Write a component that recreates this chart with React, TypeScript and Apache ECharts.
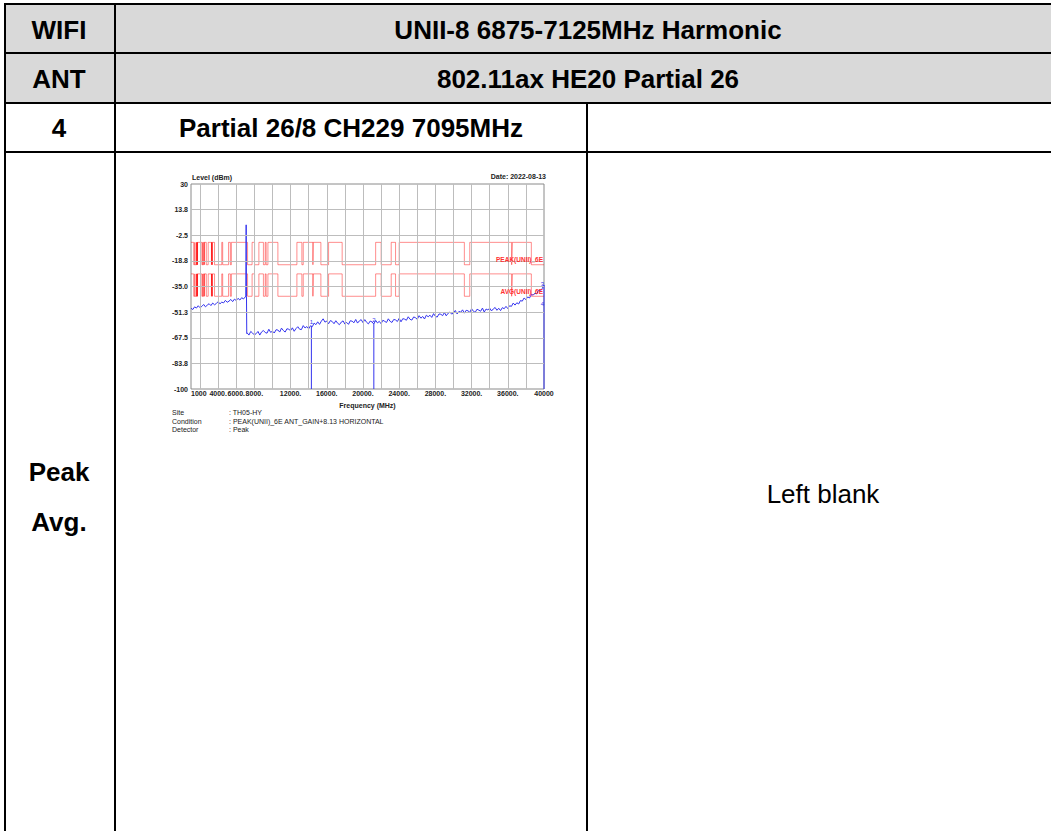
import React, { useEffect, useRef } from "react";
import * as echarts from "echarts";

// ---------- data ----------
const X_TICKS = [1000, 4000, 6000, 8000, 12000, 16000, 20000, 24000, 28000, 32000, 36000, 40000];
const X_TICK_LABELS = ["1000", "4000.", "6000.", "8000.", "12000.", "16000.", "20000.", "24000.", "28000.", "32000.", "36000.", "40000"];
const X_GRID = [2000, 4000, 6000, 8000, 10000, 12000, 14000, 16000, 18000, 20000, 22000, 24000, 26000, 28000, 30000, 32000, 34000, 36000, 38000];
const Y_TICKS = [30, 13.75, -2.5, -18.75, -35, -51.25, -67.5, -83.75, -100];
const Y_TICK_LABELS = ["30", "13.8", "-2.5", "-18.8", "-35.0", "-51.3", "-67.5", "-83.8", "-100"];

// FCC restricted bands (MHz) where the lower limit applies
const RESTRICTED_BANDS: [number, number][] = [
  [1300, 1427], [1435, 1626.5], [1645.5, 1646.5], [1660, 1710], [1718.8, 1722.2],
  [2200, 2300], [2310, 2390], [2483.5, 2500], [2690, 2900], [3260, 3267],
  [3332, 3339], [3345.8, 3358], [3600, 4400], [4500, 5150], [5350, 5460],
  [7250, 7750], [8025, 8500], [9000, 9200], [9300, 9500], [10600, 12700],
  [13250, 13400], [14470, 14500], [15350, 16200], [17700, 21400], [22010, 23120],
  [23600, 24000], [31200, 31800], [36430, 36500], [38600, 40000],
];
const PEAK_LIMIT = { high: -7, low: -21.2 };
const AVG_LIMIT = { high: -27, low: -41.2 };

// measured trace [MHz, dBm]
const TRACE_LOW: [number, number][] = [
  [1000, -48.8], [1200, -49.6], [1400, -47.9], [1600, -48.7], [1800, -47.2], [2000, -48.5],
  [2200, -47.6], [2400, -46.4], [2600, -47.9], [2800, -46.8], [3000, -45.9], [3200, -47.1],
  [3400, -45.5], [3600, -46.6], [3800, -45.8], [4000, -44.6], [4200, -46.0], [4400, -44.9],
  [4600, -45.4], [4800, -43.8], [5000, -45.0], [5200, -44.3], [5400, -43.2], [5600, -44.6],
  [5800, -43.0], [6000, -43.9], [6200, -42.5], [6400, -43.6], [6600, -42.1], [6800, -42.9],
  [7000, -41.6], [7050, -41.0], [7095, 4.1], [7130, -41.2], [7160, -64.8],
];
const TRACE_HIGH: [number, number][] = [
  [7200, -64.4], [7400, -65.8], [7600, -63.5], [7800, -64.5], [8000, -65.7], [8200, -64.9],
  [8400, -63.5], [8600, -65.8], [8800, -63.8], [9000, -62.9], [9200, -64.2], [9400, -64.6],
  [9600, -62.1], [9800, -64.1], [10000, -63.3], [10200, -64.5], [10400, -62.4], [10600, -62.6],
  [10800, -63.9], [11000, -61.4], [11200, -62.9], [11400, -63.9], [11600, -61.8], [11800, -62.1],
  [12000, -63.0], [12200, -61.2], [12400, -63.4], [12600, -61.7], [12800, -60.5], [13000, -62.1],
  [13200, -62.3], [13400, -59.8], [13600, -61.3], [13800, -60.4], [14000, -61.9], [14200, -59.9],
  [14400, -60.5], [14600, -58.2], [14800, -59.2], [15000, -57.4], [15200, -59.0], [15400, -57.0],
  [15600, -55.5], [15800, -57.6], [16000, -56.9], [16200, -58.6], [16400, -56.6], [16600, -57.2],
  [16800, -58.6], [17000, -56.7], [17200, -58.3], [17400, -59.2], [17600, -57.6], [17800, -56.8],
  [18000, -58.8], [18200, -57.8], [18400, -59.0], [18600, -56.7], [18800, -57.0], [19000, -58.0],
  [19200, -55.9], [19400, -58.2], [19600, -56.8], [19800, -56.0], [20000, -57.9], [20200, -56.0],
  [20400, -57.7], [20600, -58.7], [20800, -56.9], [21000, -57.5], [21200, -58.8], [21400, -56.5],
  [21600, -58.1], [21800, -57.1], [22000, -58.6], [22200, -56.4], [22400, -57.1], [22600, -57.8],
  [22800, -55.5], [23000, -57.1], [23200, -57.8], [23400, -55.9], [23600, -56.2], [23800, -57.2],
  [24000, -55.2], [24200, -57.4], [24400, -55.4], [24600, -55.7], [24800, -56.4], [25000, -54.2],
  [25200, -55.8], [25400, -56.3], [25600, -54.3], [25800, -54.8], [26000, -55.8], [26200, -53.5],
  [26400, -55.1], [26600, -54.0], [26800, -55.6], [27000, -53.2], [27200, -54.2], [27400, -53.2],
  [27600, -54.6], [27800, -52.2], [28000, -53.9], [28200, -54.4], [28400, -52.4], [28600, -52.6],
  [28800, -53.5], [29000, -51.5], [29200, -53.6], [29400, -52.0], [29600, -51.2], [29800, -52.5],
  [30000, -51.8], [30200, -50.2], [30400, -52.4], [30600, -50.8], [30800, -51.3], [31000, -49.8],
  [31200, -51.9], [31400, -50.1], [31600, -50.4], [31800, -51.4], [32000, -49.1], [32200, -50.7],
  [32400, -51.4], [32600, -49.4], [32800, -50.0], [33000, -50.7], [33200, -48.7], [33400, -51.2],
  [33600, -49.3], [33800, -49.9], [34000, -48.7], [34200, -50.5], [34400, -49.2], [34600, -48.3],
  [34800, -50.1], [35000, -48.8], [35200, -50.3], [35400, -48.4], [35600, -49.1], [35800, -47.6],
  [36000, -49.0], [36200, -47.2], [36400, -47.6], [36600, -45.5], [36800, -46.8], [37000, -45.3],
  [37200, -46.1], [37400, -43.9], [37600, -44.3], [37800, -42.3], [38000, -43.3], [38200, -41.6],
  [38400, -42.3], [38600, -39.9], [38800, -40.5], [39000, -39.2], [39200, -39.7], [39400, -37.4],
  [39600, -37.8], [39800, -36.3], [40000, -34.0], [40000, -100],
];
const MARKERS = [
  { name: "1", freq: 14300, level: -60.2, drop: true },
  { name: "2", freq: 21200, level: -58.8, drop: true },
  { name: "3", freq: 40000, level: -33.5, drop: false },
  { name: "4", freq: 40000, level: -46.0, drop: false },
];
const LIMIT_NAMES = ["PEAK(UNII)_6E", "AVG(UNII)_6E"];
const INFO_KEYS = ["Site", "Condition", "Detector"];
const INFO_VALUES = [": TH05-HY", ": PEAK(UNII)_6E ANT_GAIN+8.13 HORIZONTAL", ": Peak"];
const DATE_TEXT = "Date: 2022-08-13";

// ---------- helpers ----------
function buildLimit(high: number, low: number, fmin: number, fmax: number): [number, number][] {
  const pts: [number, number][] = [[fmin, high]];
  for (const [s, e] of RESTRICTED_BANDS) {
    pts.push([s, high], [s, low], [e, low]);
    if (e < fmax) pts.push([e, high]);
  }
  const last = pts[pts.length - 1];
  if (last[0] < fmax) pts.push([fmax, last[1]]);
  return pts;
}

const FONT = '"Liberation Sans", Arial, sans-serif';
const TRACE_COLOR = "#3434ee";

function Chart() {
  const ref = useRef<HTMLDivElement>(null);
  useEffect(() => {
    if (!ref.current) return;
    const chart = echarts.init(ref.current, undefined, { renderer: "svg" });
    const peak = buildLimit(PEAK_LIMIT.high, PEAK_LIMIT.low, 1000, 40000);
    const avg = buildLimit(AVG_LIMIT.high, AVG_LIMIT.low, 1000, 40000);
    const trace = [...TRACE_LOW, ...TRACE_HIGH];
    const small = { fontFamily: FONT, fontSize: 7, fontWeight: "bold" as const, color: "#222" };
    const infoText: any[] = [];
    INFO_KEYS.forEach((k, i) => {
      infoText.push({
        type: "text", left: 12, top: 241 + i * 8.5,
        style: { text: k, font: `7px ${FONT}`, fill: "#222" },
      });
      infoText.push({
        type: "text", left: 69, top: 241 + i * 8.5,
        style: { text: INFO_VALUES[i], font: `7px ${FONT}`, fill: "#222" },
      });
    });
    const markerLines = MARKERS.filter((m) => m.drop).map((m) => ({
      name: "marker" + m.name, type: "line", silent: true, z: 4,
      data: [[m.freq, m.level], [m.freq, -100]],
      showSymbol: false, symbol: "none",
      lineStyle: { color: TRACE_COLOR, width: 1 },
    }));
    chart.setOption({
      animation: false,
      backgroundColor: "#fff",
      grid: { left: 31, top: 16, width: 353, height: 205, show: true, borderColor: "#8a8a8a", borderWidth: 1, backgroundColor: "#fff" },
      xAxis: {
        type: "value", min: 1000, max: 40000,
        name: "Frequency (MHz)", nameLocation: "middle", nameGap: 7,
        nameTextStyle: { ...small, verticalAlign: "top" },
        axisLine: { show: false }, axisTick: { show: false }, splitLine: { show: false },
        axisLabel: {
          customValues: X_TICKS, margin: 1, ...small,
          formatter: (v: number) => X_TICK_LABELS[X_TICKS.indexOf(v)] ?? "",
          alignMinLabel: "left", alignMaxLabel: "center",
        },
      },
      yAxis: {
        type: "value", min: -100, max: 30,
        axisLine: { show: false }, axisTick: { show: false }, splitLine: { show: false },
        axisLabel: {
          customValues: Y_TICKS, margin: 3, ...small,
          formatter: (v: number) => Y_TICK_LABELS[Y_TICKS.indexOf(v)] ?? "",
        },
      },
      graphic: [
        { type: "text", left: 32, top: 6, style: { text: "Level (dBm)", font: `bold 7px ${FONT}`, fill: "#222" } },
        { type: "text", right: 14, top: 5, style: { text: DATE_TEXT, font: `bold 7px ${FONT}`, fill: "#222" } },
        ...infoText,
      ],
      series: [
        {
          type: "line", data: [], silent: true, z: 1,
          markLine: {
            silent: true, symbol: ["none", "none"], label: { show: false },
            lineStyle: { color: "#bdbdbd", width: 1, type: "solid" },
            data: [
              ...X_GRID.map((v) => ({ xAxis: v })),
              ...Y_TICKS.slice(1, -1).map((v) => ({ yAxis: v })),
            ],
          },
        },
        {
          name: LIMIT_NAMES[0], type: "line", data: peak, showSymbol: false, symbol: "none", z: 3,
          lineStyle: { color: "rgba(255,0,0,0.45)", width: 1 },
          markPoint: {
            symbol: "circle", symbolSize: 0,
            label: { show: true, position: "left", distance: 1, offset: [0, -5], formatter: LIMIT_NAMES[0], color: "#ff3030", fontFamily: FONT, fontSize: 6.5, fontWeight: "bold" },
            data: [{ coord: [40000, PEAK_LIMIT.low] }],
          },
        },
        {
          name: LIMIT_NAMES[1], type: "line", data: avg, showSymbol: false, symbol: "none", z: 3,
          lineStyle: { color: "rgba(255,0,0,0.45)", width: 1 },
          markPoint: {
            symbol: "circle", symbolSize: 0,
            label: { show: true, position: "left", distance: 1, offset: [0, -5], formatter: LIMIT_NAMES[1], color: "#ff3030", fontFamily: FONT, fontSize: 6.5, fontWeight: "bold" },
            data: [{ coord: [40000, AVG_LIMIT.low] }],
          },
        },
        ...markerLines,
        {
          name: "trace", type: "line", data: trace, showSymbol: false, symbol: "none", z: 4,
          lineStyle: { color: TRACE_COLOR, width: 1 },
          markPoint: {
            symbol: "circle", symbolSize: 0,
            label: { show: true, fontFamily: FONT, fontSize: 6, color: TRACE_COLOR },
            data: MARKERS.map((m) => ({
              coord: [m.freq, m.level], name: m.name,
              label: { formatter: m.name, position: m.drop ? "top" : "left", distance: m.drop ? 1 : 0 },
            })),
          },
        },
      ],
    });
    return () => chart.dispose();
  }, []);
  return <div ref={ref} style={{ position: "absolute", left: 160, top: 168, width: 400, height: 280 }} />;
}

function Line({ x, y, w, h }: { x: number; y: number; w: number; h: number }) {
  return <div style={{ position: "absolute", left: x, top: y, width: w, height: h, background: "#000" }} />;
}

function T({ text, cx, cy, size = 26, bold = true }: { text: string; cx: number; cy: number; size?: number; bold?: boolean }) {
  return (
    <div
      style={{
        position: "absolute", left: cx, top: cy, transform: "translate(-50%, -50%)",
        whiteSpace: "nowrap", fontSize: size, fontWeight: bold ? "bold" : "normal",
        lineHeight: 1, color: "#000", fontFamily: FONT,
      }}
    >
      {text}
    </div>
  );
}

export default function App() {
  return (
    <div style={{ position: "fixed", left: 0, top: 0, width: 1051, height: 831, overflow: "hidden", background: "#fff" }}>
      <div style={{ position: "absolute", left: 6, top: 5, width: 1060, height: 97, background: "#d9d9d9" }} />
      <Line x={4} y={3} w={1060} h={2} />
      <Line x={4} y={52} w={1060} h={2} />
      <Line x={4} y={102} w={1060} h={2} />
      <Line x={4} y={151} w={1060} h={2} />
      <Line x={4} y={3} w={2} h={840} />
      <Line x={114} y={3} w={2} h={840} />
      <Line x={586} y={102} w={2} h={740} />
      <T text="WIFI" cx={59} cy={30} />
      <T text="UNII-8 6875-7125MHz Harmonic" cx={588} cy={30} />
      <T text="ANT" cx={59} cy={79} />
      <T text="802.11ax HE20 Partial 26" cx={588} cy={79} />
      <T text="4" cx={59} cy={128} />
      <T text="Partial 26/8 CH229 7095MHz" cx={351} cy={128} />
      <T text="Peak" cx={59} cy={472} />
      <T text="Avg." cx={59} cy={522} />
      <T text="Left blank" cx={823} cy={494} bold={false} />
      <Chart />
    </div>
  );
}
